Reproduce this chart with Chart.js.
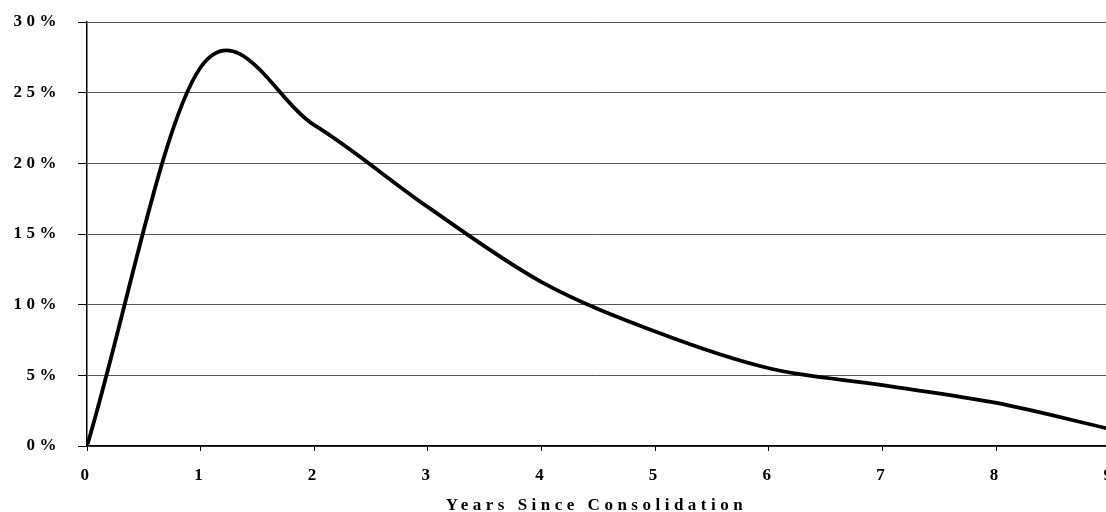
<!DOCTYPE html>
<html>
<head>
<meta charset="utf-8">
<script src="https://cdn.jsdelivr.net/npm/chart.js@4/dist/chart.umd.min.js"></script>
<style>
  html, body { margin: 0; padding: 0; background: #fff; overflow: hidden; }
  #chart { display: block; }
</style>
</head>
<body>
<canvas id="chart" width="1106" height="512" style="width:1106px;height:512px"></canvas>
<script>
// years since consolidation and share (%)
const years = [0, 1, 2, 3, 4, 5, 6, 7, 8, 9];
const share = [0, 26.8, 22.7, 16.9, 11.6, 8.1, 5.5, 4.3, 3.05, 1.2];
const xTicks = [0, 1, 2, 3, 4, 5, 6, 7, 8, 9];
const yTicks = [0, 5, 10, 15, 20, 25, 30];
const xTitle = 'Years Since Consolidation';

const points = years.map(function(y, i) { return { x: y, y: share[i] }; });

// wide letter spacing like the original labels
const spacing = {
    id: 'spacing',
    beforeUpdate: function(chart) { chart.ctx.letterSpacing = '4.5px'; },
    beforeDraw: function(chart) { chart.ctx.letterSpacing = '4.5px'; }
};

// spreadsheet style smoothing (catmull-rom) instead of chart.js distance weighted one
const smooth = {
    id: 'smooth',
    beforeDatasetDraw: function(chart, args) {
        const meta = chart.getDatasetMeta(args.index);
        const pts = meta.data;
        const n = pts.length;
        for (let i = 0; i < n; i++) {
            const p = pts[i];
            const prev = pts[Math.max(i - 1, 0)];
            const next = pts[Math.min(i + 1, n - 1)];
            let k = 1 / 6;
            if (i == 0 || i == n - 1) k = 1 / 3;
            const dx = (next.x - prev.x) * k;
            const dy = (next.y - prev.y) * k;
            p.cp1x = p.x - dx; p.cp1y = p.y - dy;
            p.cp2x = p.x + dx; p.cp2y = p.y + dy;
        }
        meta.dataset._pointsUpdated = true;
    }
};

const font = { family: '"Liberation Serif", "Times New Roman", serif', weight: 'bold', size: 17 };

new Chart(document.getElementById('chart'), {
    type: 'line',
    data: {
        datasets: [{
            data: points,
            borderColor: '#000',
            borderWidth: 3.8,
            tension: 0.35,
            pointRadius: 0,
            fill: false
        }]
    },
    options: {
        responsive: false,
        animation: false,
        layout: { padding: { top: 22, right: 0, left: 0, bottom: 0 } },
        plugins: { legend: { display: false }, tooltip: { enabled: false } },
        scales: {
            x: {
                type: 'linear',
                min: 0,
                max: 8.965, // the original plot runs a few pixels past the window edge
                border: { color: '#000', width: 1.5 },
                grid: { drawOnChartArea: false, tickLength: 5, color: '#000' },
                afterBuildTicks: function(scale) {
                    scale.ticks = xTicks.map(function(v) { return { value: v }; });
                },
                ticks: { color: '#000', font: font, padding: 14, maxRotation: 0, autoSkip: false },
                title: {
                    display: true, text: xTitle, color: '#000',
                    font: Object.assign({}, font, { lineHeight: 0.8 }),
                    padding: { top: 4, bottom: 0 }
                },
                afterFit: function(scale) {
                    scale.height = 66;
                    scale.paddingLeft = 0;
                    scale.paddingRight = 0;
                }
            },
            y: {
                min: 0,
                max: 30,
                border: { color: '#000', width: 1.5 },
                grid: { color: '#555', lineWidth: 1, tickLength: 9, tickColor: '#000' },
                afterBuildTicks: function(scale) {
                    scale.ticks = yTicks.map(function(v) { return { value: v }; });
                },
                ticks: {
                    color: '#000',
                    font: font,
                    padding: 17,
                    callback: function(v) { return v + '%'; }
                },
                afterFit: function(scale) {
                    scale.width = 87;
                    scale.paddingTop = 0;
                    scale.paddingBottom = 0;
                }
            }
        }
    },
    plugins: [spacing, smooth]
});
</script>
</body>
</html>
